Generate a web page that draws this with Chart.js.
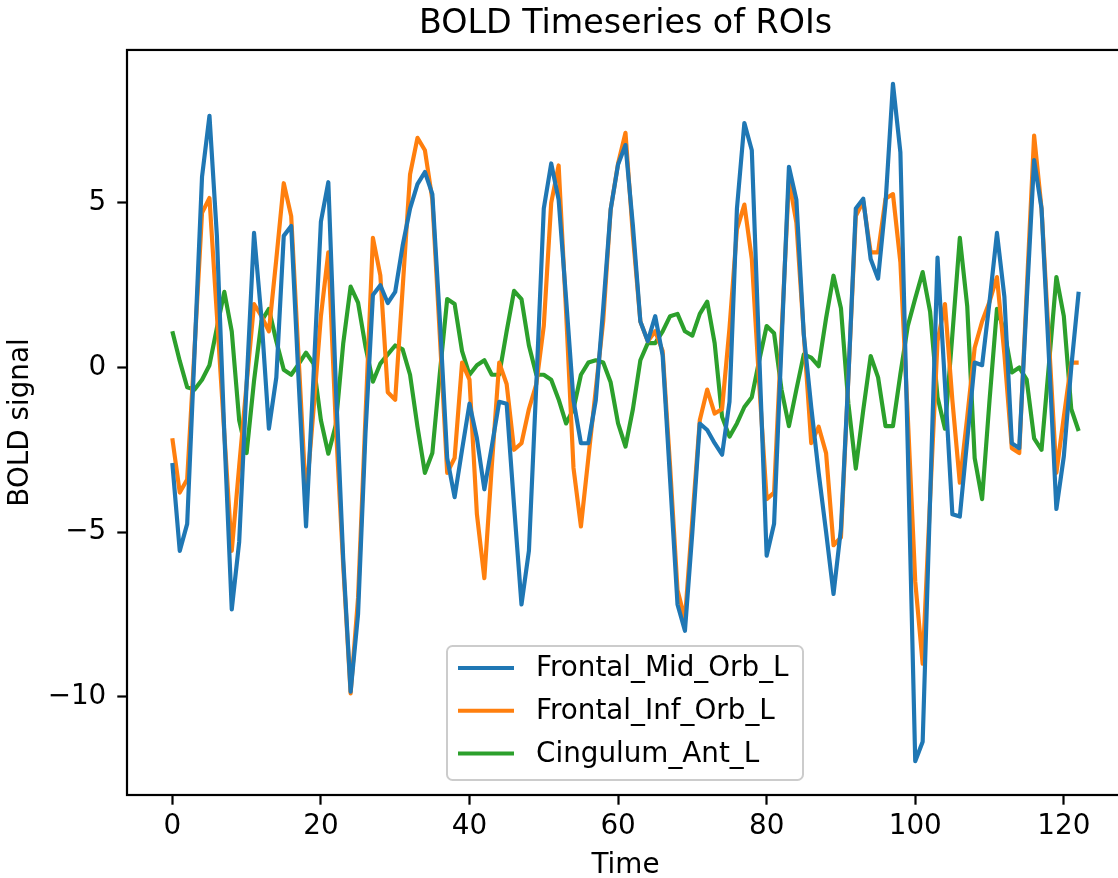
<!DOCTYPE html>
<html>
<head>
<meta charset="utf-8">
<script src="https://cdn.jsdelivr.net/npm/chart.js@4.4.1/dist/chart.umd.min.js"></script>
<style>
html,body{margin:0;padding:0;overflow:hidden;background:#fff;width:1118px;height:878px}
canvas{display:block}
</style>
</head>
<body>
<canvas id="c" width="1140" height="878"></canvas>
<script>
// ---- data ----
const chartTitle = 'BOLD Timeseries of ROIs';
const xAxisLabel = 'Time';
const yAxisLabel = 'BOLD signal';
const seriesNames = ['Frontal_Mid_Orb_L', 'Frontal_Inf_Orb_L', 'Cingulum_Ant_L'];
const xTicks = [0, 20, 40, 60, 80, 100, 120];
const yTicks = [-10, -5, 0, 5];
const timePoints = [0,1,2,3,4,5,6,7,8,9,10,11,12,13,14,15,16,17,18,19,20,21,22,23,24,25,26,27,28,29,30,31,32,33,34,35,36,37,38,39,40,41,42,43,44,45,46,47,48,49,50,51,52,53,54,55,56,57,58,59,60,61,62,63,64,65,66,67,68,69,70,71,72,73,74,75,76,77,78,79,80,81,82,83,84,85,86,87,88,89,90,91,92,93,94,95,96,97,98,99,100,101,102,103,104,105,106,107,108,109,110,111,112,113,114,115,116,117,118,119,120,121,122];

const frontalMidOrbL = [
 -2.9, -5.57, -4.75, 0.5, 5.8, 7.65, 4.0, -2.0, -7.35, -5.3,
 -0.5, 4.09, 1.5, -1.86, -0.3, 4.0, 4.3, -0.4, -4.83, -0.3,
 4.43, 5.63, -0.5, -5.8, -9.85, -7.5, -2.0, 2.2, 2.5, 1.96,
 2.3, 3.7, 4.83, 5.57, 5.94, 5.27, 1.5, -2.75, -3.94, -2.5,
 -1.1, -2.15, -3.7, -2.4, -1.04, -1.1, -4.2, -7.2, -5.57, -0.5,
 4.83, 6.2, 5.1, 2.1, -1.0, -2.3, -2.3, -1.0, 1.8, 4.8,
 6.17, 6.76, 4.3, 1.4, 0.8, 1.56, 0.37, -3.4, -7.2, -8.0,
 -5.0, -1.7, -1.9, -2.3, -2.65, -1.04, 4.83, 7.43, 6.6, 0.4,
 -5.72, -4.75, 0.7, 6.1, 5.1, 1.0, -1.2, -3.2, -5.0, -6.88,
 -4.9, -0.3, 4.83, 5.13, 3.3, 2.7, 4.98, 8.62, 6.54, -2.5,
 -11.96, -11.37, -4.0, 3.34, -0.5, -4.46, -4.53, -2.2, 0.15, 0.07,
 2.0, 4.09, 2.15, -2.3, -2.45, 2.0, 6.3, 4.83, 0.3, -4.3,
 -2.7, 0.0, 2.3
];

const frontalInfOrbL = [
 -2.15, -3.8, -3.4, 0.6, 4.7, 5.15, 1.6, -2.0, -5.57, -3.0,
 -0.5, 1.93, 1.56, 1.1, 3.3, 5.6, 4.6, 0.3, -4.0, -1.3,
 1.56, 3.5, -1.7, -6.0, -9.9, -7.0, -1.5, 3.94, 2.8, -0.75,
 -0.98, 2.4, 5.87, 6.98, 6.6, 5.1, 1.0, -3.2, -2.75, 0.15,
 -0.37, -4.46, -6.4, -3.0, 0.15, -0.5, -2.5, -2.3, -1.26, -0.5,
 1.26, 5.0, 6.14, 1.7, -3.05, -4.83, -2.75, -0.67, 1.41, 4.8,
 6.2, 7.13, 4.0, 1.4, 0.8, 1.1, 0.5, -3.0, -6.76, -7.65,
 -4.6, -1.6, -0.67, -1.4, -1.26, 1.2, 4.2, 4.95, 3.3, -0.5,
 -4.0, -3.8, 1.0, 5.7, 4.4, 1.0, -2.3, -1.8, -2.6, -5.4,
 -5.16, -0.3, 4.6, 5.05, 3.5, 3.5, 5.13, 5.27, 3.2, -1.5,
 -6.5, -9.0, -4.0, 0.8, 1.93, -1.0, -3.5, -1.5, 0.6, 1.4,
 2.0, 2.75, 0.4, -2.45, -2.6, 2.3, 7.05, 4.83, 0.8, -3.2,
 -1.5, 0.15, 0.15
];

const cingulumAntL = [
 1.1, 0.2, -0.6, -0.67, -0.37, 0.07, 1.2, 2.3, 1.1, -1.6,
 -2.6, -0.4, 1.41, 1.78, 0.8, -0.07, -0.22, 0.1, 0.45, 0.12,
 -1.6, -2.62, -1.75, 0.72, 2.46, 1.97, 0.64, -0.43, 0.12, 0.4,
 0.67, 0.55, -0.22, -1.8, -3.2, -2.6, -0.2, 2.08, 1.93, 0.5,
 -0.22, 0.07, 0.22, -0.22, -0.22, 1.1, 2.33, 2.08, 0.67, -0.22,
 -0.22, -0.37, -0.97, -1.7, -1.26, -0.22, 0.15, 0.22, 0.15, -0.45,
 -1.7, -2.4, -1.26, 0.22, 0.74, 0.74, 1.1, 1.56, 1.63, 1.1,
 0.97, 1.63, 2.0, 0.74, -1.5, -2.1, -1.7, -1.2, -0.9, 0.22,
 1.26, 1.04, -0.67, -1.78, -0.67, 0.4, 0.3, 0.04, 1.5, 2.79,
 1.8, -1.1, -3.07, -1.3, 0.35, -0.3, -1.78, -1.78, -0.2, 1.26,
 2.1, 2.9, 1.7, -0.9, -1.86, 1.0, 3.94, 1.86, -2.75, -4.0,
 -1.0, 1.78, 1.1, -0.15, 0.0, -0.37, -2.15, -2.5, 0.1, 2.75,
 1.56, -1.26, -1.93
];

const seriesColors = ['#1f77b4', '#ff7f0e', '#2ca02c'];

// ---- build ----
const seriesValues = [frontalMidOrbL, frontalInfOrbL, cingulumAntL];
const allVals = seriesValues.flat();
const vMin = Math.min(...allVals), vMax = Math.max(...allVals);
const tMin = Math.min(...timePoints), tMax = Math.max(...timePoints);
const yPad = 0.05 * (vMax - vMin), xPad = 0.05 * (tMax - tMin);

const fmt = v => (v < 0 ? '\u2212' + Math.abs(v) : String(v));

Chart.defaults.font.family = '"DejaVu Sans", sans-serif';
Chart.defaults.color = '#000';

const FS = 27.8;

const mplFrame = {
  id: 'mplFrame',
  afterDatasetsDraw(chart) {
    const ctx = chart.ctx, a = chart.chartArea;
    ctx.save();
    ctx.lineWidth = 2.2;
    ctx.strokeStyle = '#000';
    ctx.strokeRect(a.left, a.top, a.right - a.left, a.bottom - a.top);

    // legend box (matplotlib style)
    const x0 = 447, y0 = 646, w = 356, h = 134;
    ctx.beginPath();
    ctx.roundRect(x0, y0, w, h, 5.6);
    ctx.fillStyle = 'rgba(255,255,255,0.8)';
    ctx.fill();
    ctx.lineWidth = 2;
    ctx.strokeStyle = '#cccccc';
    ctx.stroke();
    chart.data.datasets.forEach((ds, k) => {
      const yy = 668 + k * 42.75;
      ctx.beginPath();
      ctx.moveTo(458, yy);
      ctx.lineTo(514, yy);
      ctx.strokeStyle = ds.borderColor;
      ctx.lineWidth = 4.17;
      ctx.lineCap = 'butt';
      ctx.stroke();
      ctx.fillStyle = '#000';
      ctx.font = FS + 'px "DejaVu Sans"';
      ctx.textBaseline = 'middle';
      ctx.textAlign = 'left';
      ctx.fillText(ds.label, 536, yy + 1);
    });
    ctx.restore();
  }
};

new Chart(document.getElementById('c'), {
  type: 'line',
  data: {
    datasets: seriesValues.map((vals, k) => ({
      label: seriesNames[k],
      data: vals.map((v, i) => ({ x: timePoints[i], y: v })),
      borderColor: seriesColors[k],
      backgroundColor: seriesColors[k],
      borderWidth: 4.17,
      pointRadius: 0,
      tension: 0,
      fill: false,
      borderJoinStyle: 'round',
      borderCapStyle: 'butt'
    }))
  },
  options: {
    responsive: false,
    animation: false,
    devicePixelRatio: 1,
    layout: { padding: { left: 0, right: 16, top: 0, bottom: 0 } },
    plugins: {
      legend: { display: false },
      tooltip: { enabled: false },
      title: {
        display: true,
        fullSize: false,
        text: chartTitle,
        color: '#000',
        font: { size: 33.3, weight: 'normal' },
        padding: { top: 4, bottom: 6 }
      }
    },
    scales: {
      x: {
        type: 'linear',
        min: tMin - xPad,
        max: tMax + xPad,
        afterBuildTicks: s => { s.ticks = xTicks.map(v => ({ value: v })); },
        afterFit: s => { s.height = 83; },
        grid: { display: true, drawOnChartArea: false, drawTicks: true, tickLength: 9.7, tickWidth: 2.2, tickColor: '#000' },
        border: { display: false },
        ticks: { color: '#000', font: { size: FS }, padding: 5.5, maxRotation: 0, autoSkip: false, callback: v => fmt(v) },
        title: { display: true, text: xAxisLabel, color: '#000', font: { size: FS }, padding: { top: 0, bottom: -4.7 } }
      },
      y: {
        type: 'linear',
        min: vMin - yPad,
        max: vMax + yPad,
        afterBuildTicks: s => { s.ticks = yTicks.map(v => ({ value: v })); },
        afterFit: s => { s.width = 127; },
        grid: { display: true, drawOnChartArea: false, drawTicks: true, tickLength: 9.7, tickWidth: 2.2, tickColor: '#000' },
        border: { display: false },
        ticks: { color: '#000', font: { size: FS }, padding: 11, autoSkip: false, callback: v => fmt(v) },
        title: { display: true, text: yAxisLabel, color: '#000', font: { size: FS }, padding: { top: 4.5, bottom: 0 } }
      }
    }
  },
  plugins: [mplFrame]
});
</script>
</body>
</html>
